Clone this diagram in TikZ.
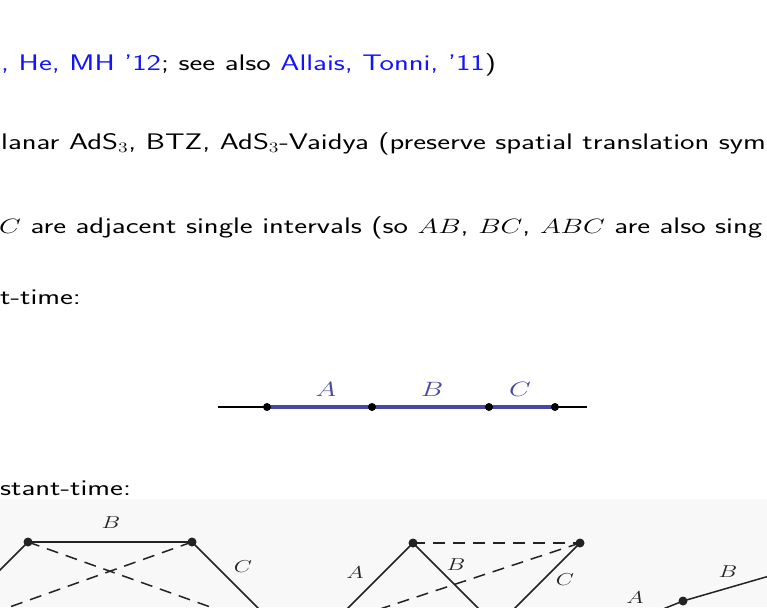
\documentclass[tikz,border=0pt]{standalone}
\usepackage{graphicx}
\newcommand{\stretchtxt}[1]{\scalebox{1.36}[1]{#1}}
\definecolor{linkblue}{RGB}{20,20,245}
\definecolor{segblue}{RGB}{72,72,160}
\definecolor{figgray}{RGB}{35,35,35}
\definecolor{figbg}{RGB}{248,248,248}
\tikzset{
  txt/.style={anchor=base west, inner sep=0pt, font=\fontsize{22.5}{27}\selectfont\sffamily},
  dot/.style={circle, fill=black, inner sep=0pt, minimum size=8pt},
  fdot/.style={circle, fill=figgray, inner sep=0pt, minimum size=9pt},
  seglab/.style={text=segblue, inner sep=0pt, anchor=base, font=\fontsize{22.5}{27}\selectfont},
  flab/.style={text=figgray, inner sep=0pt, font=\fontsize{18}{21}\selectfont},
  fline/.style={draw=figgray, line width=1.5pt},
  fdash/.style={draw=figgray, line width=1.5pt, dash pattern=on 12pt off 8pt},
}
\begin{document}
\begin{tikzpicture}[x=1pt,y=-1pt]
\useasboundingbox (0,0) rectangle (767,607);
\clip (0,0) rectangle (767,607);
% text lines
\node[txt] (t1) at (1,71) {\stretchtxt{\textcolor{linkblue}{, He, MH '12}; see also \textcolor{linkblue}{Allais, Tonni, '11})}};
\node[txt] (t2) at (1,149) {\stretchtxt{lanar AdS$_3$, BTZ, AdS$_3$-Vaidya (preserve spatial translation sym}};
\node[txt] (t3) at (-1,233) {\stretchtxt{$C$ are adjacent single intervals (so $AB$, $BC$, $ABC$ are also sing}};
\node[txt] (t4) at (0,304) {\stretchtxt{t-time:}};
\node[txt] (t5) at (0,495) {\stretchtxt{stant-time:}};
% constant-time segment
\coordinate (s0) at (218,407);
\coordinate (s5) at (587,407);
\coordinate (q1) at (267,407);
\coordinate (q2) at (372,407);
\coordinate (q3) at (489,407);
\coordinate (q4) at (555,407);
\draw[line width=1.2pt] (s0) -- (q1);
\draw[line width=1.2pt] (q4) -- (s5);
\draw[segblue, line width=4.5pt] (q1) -- (q4);
\node[dot] (p1) at (q1) {};
\node[dot] (p2) at (q2) {};
\node[dot] (p3) at (q3) {};
\node[dot] (p4) at (q4) {};
\node[seglab] (la) at (326,396) {\stretchtxt{$A$}};
\node[seglab] (lb) at (432,396) {\stretchtxt{$B$}};
\node[seglab] (lc) at (520,396) {\stretchtxt{$C$}};
% embedded figure background
\fill[figbg] (0,499) rectangle (767,607);
% left figure
\coordinate (L1) at (28,542);
\coordinate (L2) at (192,542);
\coordinate (La) at (-40,610);
\coordinate (Lc) at (260,610);
\coordinate (Ld1) at (230,614);
\coordinate (Ld2) at (-10,614);
\draw[fline] (L1) -- (L2);
\draw[fline] (L1) -- (La);
\draw[fline] (L2) -- (Lc);
\draw[fdash] (L1) -- (Ld1);
\draw[fdash] (L2) -- (Ld2);
\node[fdot] (dL1) at (L1) {};
\node[fdot] (dL2) at (L2) {};
\node[flab] (lLB) at (111,523) {\stretchtxt{$B$}};
\node[flab] (lLC) at (243,567) {\stretchtxt{$C$}};
% middle figure
\coordinate (M1) at (413,543);
\coordinate (M2) at (580,543);
\coordinate (Ma) at (345,611);
\coordinate (Mb) at (481,611);
\coordinate (Mc) at (512,611);
\coordinate (Md) at (380,609);
\draw[fdash] (M1) -- (M2);
\draw[fline] (M1) -- (Ma);
\draw[fline] (M1) -- (Mb);
\draw[fline] (M2) -- (Mc);
\draw[fdash] (M2) -- (Md);
\node[fdot] (dM1) at (M1) {};
\node[fdot] (dM2) at (M2) {};
\node[flab] (lMA) at (355,573) {\stretchtxt{$A$}};
\node[flab] (lMB) at (456,565) {\stretchtxt{$B$}};
\node[flab] (lMC) at (565,580) {\stretchtxt{$C$}};
% right figure
\coordinate (R1) at (683,601);
\coordinate (Rb) at (790,570);
\coordinate (Ra) at (663,609);
\draw[fline] (R1) -- (Rb);
\draw[fline] (R1) -- (Ra);
\node[fdot] (dR1) at (R1) {};
\node[flab] (lRA) at (635,598) {\stretchtxt{$A$}};
\node[flab] (lRB) at (728,572) {\stretchtxt{$B$}};
\end{tikzpicture}
\end{document}
